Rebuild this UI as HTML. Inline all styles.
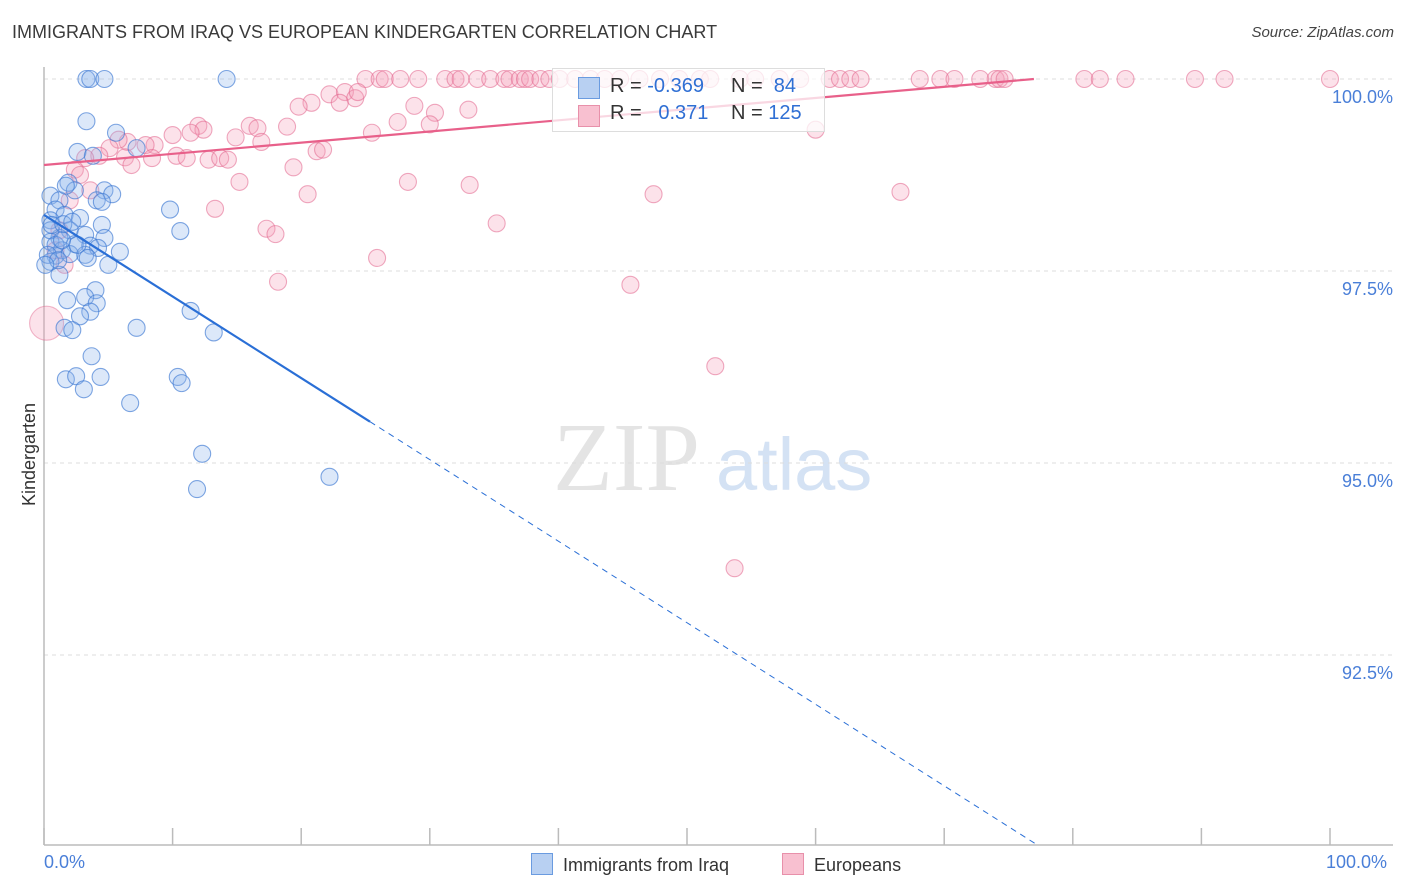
<!DOCTYPE html>
<html><head><meta charset="utf-8"><style>
body{margin:0;background:#fff;font-family:"Liberation Sans",sans-serif;}
#wrap{position:relative;width:1406px;height:892px;overflow:hidden;}
.t{position:absolute;white-space:nowrap;}
</style></head><body>
<div id="wrap">
<div class="t" style="left:12px;top:22px;font-size:18px;color:#3a3a3a;">IMMIGRANTS FROM IRAQ VS EUROPEAN KINDERGARTEN CORRELATION CHART</div>
<div class="t" style="right:12px;top:24px;font-size:15px;color:#444;font-style:italic;">Source: ZipAtlas.com</div>
<div class="t" style="left:-22px;top:444px;font-size:18px;color:#333;transform:rotate(-90deg);">Kindergarten</div>
<svg id="svg" width="1406" height="892" style="position:absolute;left:0;top:0;"></svg>
</div>
<script>
const blueX=[3.3,3.6,4.7,14.2,3.3,5.6,2.6,7.2,3.8,1.9,4.7,5.3,2.4,0.5,1.2,4.1,4.5,9.8,0.9,1.6,2.8,0.5,4.5,10.6,2.0,3.2,1.2,4.7,0.5,2.4,3.6,1.4,4.2,5.9,3.2,0.9,2.0,0.5,5.0,1.2,4.0,3.2,1.8,4.1,3.6,2.8,11.4,7.2,1.6,2.2,13.2,3.7,1.7,4.4,2.5,10.4,10.7,3.1,6.7,12.3,11.9,22.2,0.5,0.9,0.3,1.1,0.1,0.6,1.5,2.6,2.2,1.7,1.4,3.4];
const blueY=[100,100,100,100,99.45,99.3,99.05,99.1,99.0,98.65,98.55,98.5,98.55,98.48,98.42,98.42,98.4,98.3,98.3,98.23,98.19,98.16,98.1,98.02,98.03,97.97,97.93,97.93,97.88,97.85,97.83,97.77,97.8,97.75,97.71,97.7,97.72,97.62,97.58,97.45,97.25,97.16,97.12,97.08,96.97,96.91,96.98,96.76,96.76,96.73,96.7,96.39,96.09,96.12,96.13,96.12,96.04,95.96,95.78,95.12,94.66,94.82,98.03,97.84,97.71,97.64,97.58,98.1,98.11,97.84,98.14,98.61,97.9,97.67];
const pinkTopX=[25.0,26.1,26.5,27.7,29.1,31.2,32.0,32.4,33.7,34.7,35.8,36.2,37.0,37.4,37.8,38.6,39.3,40.1,41.3,42.5,43.6,44.8,46.3,47.9,49.4,51.0,51.8,54.1,55.3,57.2,58.8,61.1,61.9,62.7,63.5,68.1,69.7,70.8,72.8,74.0,74.3,74.7,80.9,82.1,84.1,89.5,91.8,100];
const pinkX=[22.2,23.4,24.2,24.4,20.8,19.8,23.0,28.8,30.4,33.0,30.0,27.5,25.5,18.9,16.0,16.6,12.0,12.4,11.4,10.0,14.9,16.9,60.0,8.6,7.9,6.5,5.8,5.1,4.3,3.2,6.3,6.8,8.4,10.3,11.1,12.8,13.7,14.3,19.4,21.2,21.7,2.4,2.8,15.2,20.5,28.3,33.1,47.4,66.6,13.3,35.2,17.3,18.0,25.9,18.2,45.6,52.2,53.7,1.2,0.9,2.0,1.6,3.6];
const pinkY=[99.8,99.83,99.75,99.83,99.69,99.64,99.69,99.65,99.56,99.6,99.41,99.44,99.3,99.38,99.39,99.36,99.39,99.34,99.3,99.27,99.24,99.18,99.34,99.14,99.14,99.18,99.21,99.1,99.0,98.97,98.98,98.88,98.97,99.0,98.97,98.95,98.97,98.95,98.85,99.06,99.08,98.82,98.75,98.66,98.5,98.66,98.62,98.5,98.53,98.31,98.12,98.05,97.98,97.67,97.36,97.32,96.26,93.63,98.03,97.77,98.42,97.58,98.55];
const bigPink=[[0.2,96.82]];
const yTicks=[100,97.5,95,92.5];
const yTickLabels=["100.0%","97.5%","95.0%","92.5%"];
const xTicks=[0,10,20,30,40,50,60,70,80,90,100];
const blueLine=[98.23,-0.1062], pinkLine=[98.88,0.01455];

const X=v=>44+v*12.86, Y=v=>79+(100-v)*76.8;
const svg=document.getElementById('svg');
const NS='http://www.w3.org/2000/svg';
function mk(tag,at,parent){const e=document.createElementNS(NS,tag);for(const k in at)e.setAttribute(k,at[k]);(parent||svg).appendChild(e);return e;}
let wm=mk('text',{x:553,y:490,'font-size':98,'font-family':'Liberation Serif, serif',fill:'#e4e4e4'});wm.textContent='ZIP';


let wm2=mk('text',{x:716,y:490,'font-size':74,'font-family':'Liberation Sans, sans-serif',fill:'#d4e2f4'});wm2.textContent='atlas';


yTicks.forEach((v,i)=>{
 const g=mk('line',{x1:44,x2:1393,y1:Y(v),y2:Y(v),stroke:'#dcdcdc','stroke-dasharray':'4,4'});
 
 
 const t=mk('text',{x:1393,y:Y(v)+24,'text-anchor':'end','font-size':18,fill:'#4a7fd8','font-family':'Liberation Sans, sans-serif'});t.textContent=yTickLabels[i];
 
 
});
mk('line',{x1:44,x2:44,y1:67,y2:845,stroke:'#bbb','stroke-width':1.5});
mk('line',{x1:44,x2:1393,y1:845,y2:845,stroke:'#bbb','stroke-width':1.5});
xTicks.forEach(v=>{const l=mk('line',{x1:X(v),x2:X(v),y1:828,y2:845,stroke:'#bbb','stroke-width':1.5});
 
 });
function dot(x,y,fill,stroke,r,name){const c=mk('circle',{cx:X(x),cy:Y(y),r:r,fill:fill,stroke:stroke,'stroke-width':1.1});
 
 }
pinkTopX.forEach(x=>dot(x,100,'rgba(245,160,185,0.3)','rgba(225,100,140,0.55)',8.5,'european-point'));
pinkX.forEach((x,i)=>dot(x,pinkY[i],'rgba(245,160,185,0.3)','rgba(225,100,140,0.55)',8.5,'european-point'));
bigPink.forEach(p=>dot(p[0],p[1],'rgba(245,160,185,0.3)','rgba(225,100,140,0.45)',17,'european-point'));
blueX.forEach((x,i)=>dot(x,blueY[i],'rgba(140,180,235,0.3)','rgba(60,120,210,0.65)',8.5,'iraq-point'));
const bx1=25.35, bEnd=(90.03-blueLine[0])/blueLine[1];
let l1=mk('line',{x1:X(0),y1:Y(blueLine[0]),x2:X(bx1),y2:Y(blueLine[0]+blueLine[1]*bx1),stroke:'#2a6fd6','stroke-width':2.2});


let l2=mk('line',{x1:X(bx1),y1:Y(blueLine[0]+blueLine[1]*bx1),x2:X(bEnd),y2:Y(90.03),stroke:'#2a6fd6','stroke-width':1,'stroke-dasharray':'6,5'});


const pEnd=(100-pinkLine[0])/pinkLine[1];
let l3=mk('line',{x1:X(0),y1:Y(pinkLine[0]),x2:X(pEnd),y2:Y(100),stroke:'#e8608a','stroke-width':2.2});


</script>
<div style="position:absolute;left:552px;top:68px;width:271px;height:62px;border:1px solid #ddd;background:rgba(255,255,255,0.75);font-size:20px;color:#333;">
 <div style="position:absolute;left:25px;top:8px;width:20px;height:20px;background:#b8d0f2;border:1px solid #6a9be0;"></div>
 <div class="t" style="left:57px;top:6px;">R = <span style="color:#2f6fd4">-0.369</span></div>
 <div class="t" style="left:178px;top:6px;">N = &nbsp;<span style="color:#2f6fd4">84</span></div>
 <div style="position:absolute;left:25px;top:36px;width:20px;height:20px;background:#f8c0d0;border:1px solid #e890aa;"></div>
 <div class="t" style="left:57px;top:33px;">R = &nbsp;&nbsp;<span style="color:#2f6fd4">0.371</span></div>
 <div class="t" style="left:178px;top:33px;">N = <span style="color:#2f6fd4">125</span></div>
</div>
<div class="t" style="left:44px;top:852px;font-size:18px;color:#4a7fd8;">0.0%</div>
<div class="t" style="left:1326px;top:852px;font-size:18px;color:#4a7fd8;">100.0%</div>
<div style="position:absolute;left:531px;top:853px;font-size:18px;color:#333;">
 <span style="display:inline-block;width:20px;height:20px;background:#b8d0f2;border:1px solid #6a9be0;vertical-align:-4px;margin-right:10px;"></span>Immigrants from Iraq</div>
<div style="position:absolute;left:782px;top:853px;font-size:18px;color:#333;">
 <span style="display:inline-block;width:20px;height:20px;background:#f8c0d0;border:1px solid #e890aa;vertical-align:-4px;margin-right:10px;"></span>Europeans</div>
</body></html>
